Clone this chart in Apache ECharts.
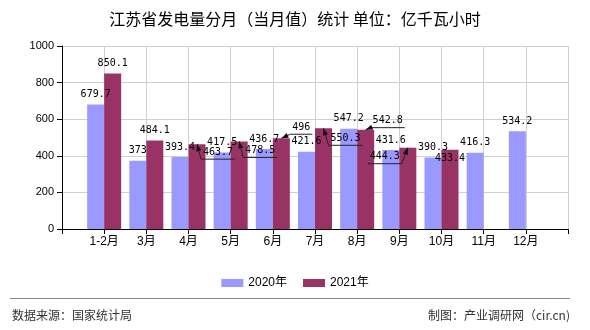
<!DOCTYPE html>
<html><head><meta charset="utf-8">
<script src="https://cdn.jsdelivr.net/npm/echarts@6/dist/echarts.min.js"></script>
<style>html,body{margin:0;padding:0;background:#fff}#c{width:590px;height:330px}</style>
</head><body><div id="c"></div><script>
const months = ['1-2月','3月','4月','5月','6月','7月','8月','9月','10月','11月','12月'];
const values2020 = [679.7,373,393.4,417.5,436.7,421.6,547.2,431.6,390.3,416.3,534.2];
const values2021 = [850.1,484.1,463.7,478.5,496,550.3,542.8,444.3,433.4,null,null];
const yTicks = [0,200,400,600,800,1000];
const seriesNames = ['2020年','2021年'];

// label placement tweaks (style only): month index -> [dx, dy] of label centre from bar top centre
const moved2021 = {2:[21,8], 3:[21,9], 4:[20,-11], 5:[22,10], 6:[22,-9], 7:[-23,9]};
const shifted2021 = {8:[0,9]};

const BAR_W = 17;
const pad = arr => [null].concat(arr, [null]);
const axisCats = [''].concat(months, ['']);

const labelFont = {fontFamily:'DejaVu Sans Mono', fontSize:10, color:'#000'};

function layoutFor(map) {
  return function (p) {
    const i = p.dataIndex - 1;
    const o = map[i] || shifted2021[i];
    if (!o || !p.rect || !p.labelRect) return {};
    const tx = p.rect.x + p.rect.width / 2 + o[0];
    const ty = p.rect.y + o[1];
    const cx = p.labelRect.x + p.labelRect.width / 2;
    const cy = p.labelRect.y + p.labelRect.height / 2;
    return {dx: tx - cx, dy: ty - cy};
  };
}

const leaderData = Object.keys(moved2021).map(k => {
  const i = +k;
  return [i + 1, values2021[i], moved2021[i][0], moved2021[i][1], String(values2021[i]).length];
});

const chart = echarts.init(document.getElementById('c'), null, {renderer:'canvas'});
chart.setOption({
  animation: false,
  backgroundColor: '#fff',
  title: {
    text: '江苏省发电量分月（当月值）统计 单位：亿千瓦小时',
    left: 'center', top: 6,
    textStyle: {fontSize: 16, fontWeight: 'normal', color: '#000', fontFamily: 'Noto Sans CJK SC'}
  },
  legend: {
    data: seriesNames, top: 272, left: 'center',
    icon: 'rect', itemWidth: 22, itemHeight: 8, itemGap: 16,
    textStyle: {fontSize: 12, color: '#000', fontFamily: 'Liberation Sans, Noto Sans CJK SC'}
  },
  grid: {left: 62, right: 22, top: 46, bottom: 101},
  xAxis: {
    type: 'category', data: axisCats, boundaryGap: false,
    axisLine: {lineStyle: {color: '#000', width: 1}},
    axisTick: {show: true, interval: 0, length: 5, lineStyle: {color: '#000'}},
    axisLabel: {interval: 0, fontSize: 12, color: '#000', margin: 7, fontFamily: 'Liberation Sans, Noto Sans CJK SC'},
    splitLine: {show: true, interval: 0, lineStyle: {color: '#d0d0d0', width: 1}}
  },
  yAxis: {
    type: 'value', min: yTicks[0], max: yTicks[yTicks.length - 1], interval: yTicks[1] - yTicks[0],
    axisLine: {show: true, lineStyle: {color: '#000', width: 1}},
    axisTick: {show: true, length: 5, lineStyle: {color: '#000'}},
    axisLabel: {fontSize: 11, color: '#000', margin: 8, fontFamily: 'Liberation Sans', formatter: v => String(v)},
    splitLine: {show: true, lineStyle: {color: '#d0d0d0', width: 1}}
  },
  series: [
    {
      name: seriesNames[0], type: 'bar', data: pad(values2020),
      barWidth: BAR_W, barGap: '0%',
      itemStyle: {color: '#9999FF'},
      label: Object.assign({show: true, position: 'top', distance: 5}, labelFont)
    },
    {
      name: seriesNames[1], type: 'bar', data: pad(values2021),
      barWidth: BAR_W, barGap: '0%',
      itemStyle: {color: '#993366'},
      label: Object.assign({show: true, position: 'top', distance: 5}, labelFont),
      labelLayout: layoutFor(moved2021)
    },
    {
      name: 'leader', type: 'custom', data: leaderData, silent: true, clip: false, z: 5,
      renderItem: function (params, api) {
        const p = api.coord([api.value(0), api.value(1)]);
        const tipX = p[0] + BAR_W / 2, tipY = p[1];
        const dx = api.value(2), dy = api.value(3), len = api.value(4);
        const hw = len * 3 + 2;
        const cx = tipX + dx, ly = tipY + dy + 7;
        const side = dx > 0 ? -1 : 1;
        const ex = cx + side * hw, fx = cx - side * hw;
        const ang = Math.atan2(tipY - ly, tipX - ex);
        const L = 7, W = 2.6;
        const bx = tipX - L * Math.cos(ang), by = tipY - L * Math.sin(ang);
        const nx = -Math.sin(ang) * W, ny = Math.cos(ang) * W;
        return {type: 'group', children: [
          {type: 'polyline', shape: {points: [[tipX, tipY], [ex, ly], [fx, ly]]},
           style: {stroke: '#222', fill: null, lineWidth: 1}},
          {type: 'polygon', shape: {points: [[tipX, tipY], [bx + nx, by + ny], [bx - nx, by - ny]]},
           style: {fill: '#111', stroke: null}}
        ]};
      }
    }
  ],
  graphic: [
    {type: 'line', shape: {x1: 10, y1: 298.5, x2: 570, y2: 298.5}, style: {stroke: '#888', lineWidth: 1}},
    {type: 'text', left: 12, top: 309, style: {text: '数据来源：国家统计局', font: '12px "Noto Sans CJK SC"', fill: '#333'}},
    {type: 'text', right: 20, top: 309, style: {text: '制图：产业调研网（cir.cn)', font: '12px "Noto Sans CJK SC"', fill: '#333'}}
  ]
});
</script></body></html>
